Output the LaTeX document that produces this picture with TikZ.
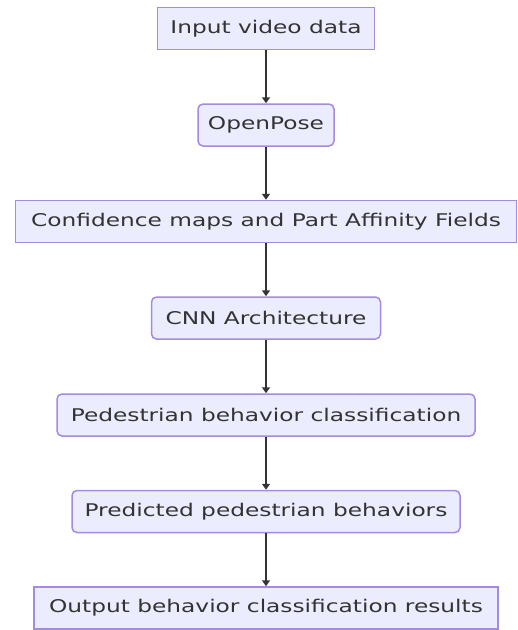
\documentclass[tikz,border=0pt]{standalone}
\usepackage{fontspec}
\setmainfont{DejaVu Sans}[FakeStretch=1.33]
\usetikzlibrary{arrows.meta}
\definecolor{box area}{HTML}{ECECFF}
\definecolor{box edge}{HTML}{A58BE0}
\definecolor{box text}{HTML}{333333}
\tikzset{
  flatbox/.style={rectangle, fill=box area, draw=box edge, line width=1.5pt,
    minimum height=42pt, inner sep=0pt, text=box text, font=\fontsize{17.5}{20}\selectfont},
  roundbox/.style={flatbox, rounded corners=5pt}
  }
\tikzstyle{link} = [draw=box text, line width=2.2pt, -{Triangle[width=8pt,length=6pt]}]

\begin{document}
\begin{tikzpicture}
  \useasboundingbox (0,0) rectangle (518pt,-630pt);

  \foreach \name/\y/\w/\kind/\txt in {
      input/28.5/217/flatbox/Input video data,
      pose/125/136/roundbox/OpenPose,
      maps/221.5/501/flatbox/Confidence maps and Part Affinity Fields,
      cnn/318/229/roundbox/CNN Architecture,
      classify/415/418/roundbox/Pedestrian behavior classification,
      predict/511.5/388/roundbox/Predicted pedestrian behaviors,
      output/608/464/flatbox/Output behavior classification results} {
    \node[\kind, minimum width=\w pt] (\name) at (266pt,-\y pt) {\txt};
  }

  \foreach \a/\b in {input/pose, pose/maps, maps/cnn, cnn/classify,
                     classify/predict, predict/output} {
    \path[link] (\a) -- (\b);
  }
\end{tikzpicture}
\end{document}
